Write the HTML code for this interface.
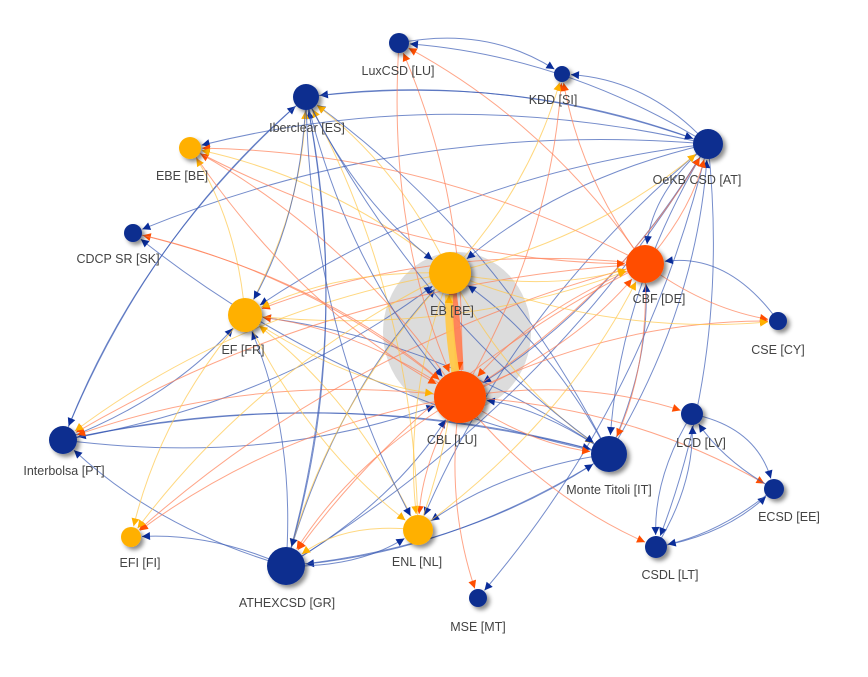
<!DOCTYPE html>
<html><head><meta charset="utf-8">
<style>
html,body{margin:0;padding:0;background:#fff;}
svg{display:block;}
text{font-family:"Liberation Sans",sans-serif;font-size:12.5px;fill:#444;}
</style></head>
<body>
<svg id="s" width="868" height="677" viewBox="0 0 868 677" xmlns="http://www.w3.org/2000/svg">
<defs>
<filter id="sh" x="-50%" y="-50%" width="200%" height="200%"><feDropShadow dx="3" dy="3" stdDeviation="2" flood-color="#000" flood-opacity="0.45"/></filter>
</defs>
<ellipse cx="457" cy="332" rx="74" ry="80" fill="#dcdcdc"/>
<g id="edges"></g>
<g id="nodes"></g>
</svg>
<script>
var N={
LUX:[399,43,10,'#0a2d8f','LuxCSD [LU]',398,75],
KDD:[562,74,8,'#0a2d8f','KDD [SI]',553,104],
IBE:[306,97,13,'#0a2d8f','Iberclear [ES]',307,132],
EBE:[190,148,11,'#ffb000','EBE [BE]',182,180],
OEK:[708,144,15,'#0a2d8f','OeKB CSD [AT]',697,184],
CDC:[133,233,9,'#0a2d8f','CDCP SR [SK]',118,263],
EB:[450,273,21,'#ffb000','EB [BE]',452,315],
CBF:[645,264,19,'#ff4e00','CBF [DE]',659,303],
EF:[245,315,17,'#ffb000','EF [FR]',243,354],
CSE:[778,321,9,'#0a2d8f','CSE [CY]',778,354],
CBL:[460,397,26,'#ff4e00','CBL [LU]',452,444],
INT:[63,440,14,'#0a2d8f','Interbolsa [PT]',64,475],
LCD:[692,414,11,'#0a2d8f','LCD [LV]',701,447],
MON:[609,454,18,'#0a2d8f','Monte Titoli [IT]',609,494],
ECS:[774,489,10,'#0a2d8f','ECSD [EE]',789,521],
EFI:[131,537,10,'#ffb000','EFI [FI]',140,567],
ENL:[418,530,15,'#ffb000','ENL [NL]',417,566],
ATH:[286,566,19,'#0a2d8f','ATHEXCSD [GR]',287,607],
CSD:[656,547,11,'#0a2d8f','CSDL [LT]',670,579],
MSE:[478,598,9,'#0a2d8f','MSE [MT]',478,631]};
var C={b:'#3a5bb5',o:'#ff7f55',y:'#ffc84a'};
var E=[
['OEK','IBE','b',.1],['OEK','KDD','b',.2],['OEK','CDC','b',.05],['OEK','EB','b',.1],['OEK','CBF','b',.2],['OEK','EF','b',.05],['OEK','CBL','b',-.1],['OEK','MSE','b',-.05],['OEK','MON','b',.05],['OEK','CSD','b',-.1],['OEK','ENL','b',.05],['OEK','LUX','b',.1],['OEK','EBE','b',.08],
['MON','IBE','b',.05],['MON','EB','b',.05],['MON','CBF','b',.1],['MON','CBL','b',.1],['MON','ENL','b',.1],['MON','ATH','b',-.1],['MON','INT','b',.03],['MON','OEK','b',.1],['MON','CDC','b',-.03],['MON','EF','b',.05],
['ATH','IBE','b',.05],['ATH','EF','b',.1],['ATH','ENL','b',.15],['ATH','EFI','b',.1],['ATH','INT','b',-.1],['ATH','CBL','b',.05],['ATH','OEK','b',.03],['ATH','EB','b',-.05],['ATH','MON','b',.08],
['INT','IBE','b',-.05],['INT','EF','b',.1],['INT','CBL','b',.05],['INT','MON','b',-.05],['INT','EB','b',.05],
['CBL','LUX','o',.05],['CBL','KDD','o',.05],['CBL','EBE','o',.05],['CBL','EF','o',.05],['CBL','INT','o',.03],['CBL','EFI','o',.05],['CBL','ATH','o',.05],['CBL','ENL','o',.05],['CBL','MSE','o',.05],['CBL','CSD','o',.05],['CBL','ECS','o',-.05],['CBL','LCD','o',-.05],['CBL','CBF','o',.05],['CBL','MON','o',.1],['CBL','OEK','o',.05],['CBL','CSE','o',-.03],['CBL','CDC','o',.05],
['CBF','LUX','o',.1],['CBF','KDD','o',-.1],['CBF','EBE','o',.05],['CBF','EF','o',.05],['CBF','INT','o',.05],['CBF','EFI','o',.05],['CBF','ATH','o',.05],['CBF','CSE','o',.05],['CBF','OEK','o',.1],['CBF','CBL','o',.1],['CBF','MON','o',-.05],
['EB','EBE','y',.05],['EB','EF','y',.05],['EB','IBE','y',.05],['EB','INT','y',.05],['EB','EFI','y',.05],['EB','ENL','y',.05],['EB','CBF','y',.05],['EB','CSE','y',.05],['EB','OEK','y',.05],['EB','KDD','y',.05],['EB','ATH','y',.05],['EB','MON','y',.05],
['EF','EBE','y',.05],['EF','EFI','y',.05],['EF','ENL','y',.1],['EF','IBE','y',.05],['EF','CBF','y',.05],['EF','CBL','y',.05],
['ENL','EF','y',.1],['ENL','EB','y',.05],['ENL','IBE','y',.05],['ENL','ATH','y',.2],['ENL','CBF','y',.05],
['LUX','KDD','b',-.2],['LCD','ECS','b',-.3],['ECS','LCD','b',-.1],['LCD','CSD','b',.15],['CSD','LCD','b',.15],['CSD','ECS','b',.15],['ECS','CSD','b',-.1],['CSE','CBF','b',.3],
['IBE','EB','b',.05],['IBE','EF','b',-.05],['IBE','ENL','b',.05],['IBE','MON','b',.05],['IBE','ATH','b',-.05],['IBE','INT','b',.05],['IBE','CBL','b',.05],['IBE','OEK','b',-.1],
['CDC','CBL','o',-.05],['EBE','CBL','o',.05],['EBE','CBF','o',.05],['LUX','CBL','o',.05]
];
var eg=document.getElementById('edges'),ng=document.getElementById('nodes'),ns='http://www.w3.org/2000/svg';
function el(t,a,p){var e=document.createElementNS(ns,t);for(var k in a)e.setAttribute(k,a[k]);p.appendChild(e);return e;}
function edge(a,b,col,cv,w){var A=N[a],B=N[b];var dx=B[0]-A[0],dy=B[1]-A[1];
var mx=(A[0]+B[0])/2-dy*cv,my=(A[1]+B[1])/2+dx*cv;
var tx=B[0]-mx,ty=B[1]-my,tl=Math.hypot(tx,ty);tx/=tl;ty/=tl;
var ex=B[0]-tx*(B[2]+1),ey=B[1]-ty*(B[2]+1);
el('path',{d:'M'+A[0]+','+A[1]+' Q'+mx+','+my+' '+ex+','+ey,fill:'none',stroke:C[col],'stroke-width':w||1,'stroke-opacity':w?0.95:0.7},eg);
var s=8,hw=4,px=-ty,py=tx,bx=ex-tx*s,by=ey-ty*s;
var fc=col=='b'?'#0a2d9a':(col=='o'?'#ff4e00':'#ffb000');
el('polygon',{points:ex+','+ey+' '+(bx+px*hw)+','+(by+py*hw)+' '+(bx-px*hw)+','+(by-py*hw),fill:fc},eg);}
E.forEach(function(e){var c=e[3];c=c>=0?Math.max(c,.12):Math.min(c,-.12);edge(e[0],e[1],e[2],c);});
edge('EB','CBL','o',-.03,8);edge('CBL','EB','y',-.06,8);
for(var k in N){var n=N[k];el('circle',{cx:n[0],cy:n[1],r:n[2],fill:n[3],filter:'url(#sh)'},ng);
var t=el('text',{x:n[5],y:n[6],'text-anchor':'middle'},ng);t.textContent=n[4];}
</script>
</body></html>
